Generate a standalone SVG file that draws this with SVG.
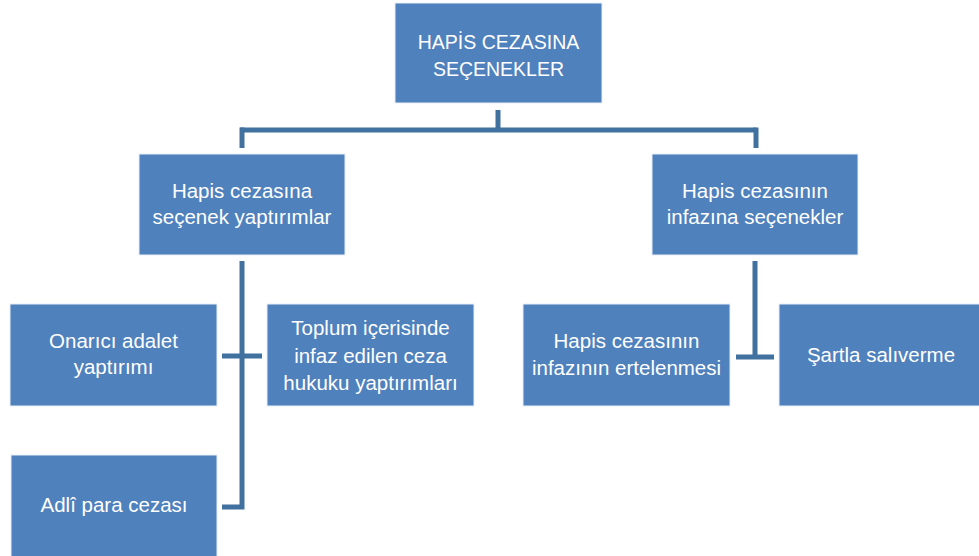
<svg xmlns="http://www.w3.org/2000/svg" width="979" height="556" viewBox="0 0 979 556">
<style>
.box{fill:#4F81BD;stroke:#E8EEF6;stroke-width:1}
.t{font-family:"Liberation Sans",Arial,sans-serif;font-size:20.5px;fill:#FFFFFF;text-anchor:middle}
.c{fill:none;stroke:#41719F;stroke-width:5;stroke-linecap:butt;stroke-linejoin:miter}
</style>
<rect width="979" height="556" fill="#FFFFFF"/>
<g id="connectors">
<path class="c" d="M498,110 V130"/>
<path class="c" d="M240,130 H756"/>
<path class="c" d="M242,127.5 V148"/>
<path class="c" d="M756,127.5 V148"/>
<path class="c" d="M242,261 V507 H222"/>
<path class="c" d="M222,356 H262"/>
<path class="c" d="M755,261 V357"/>
<path class="c" d="M736,357 H774"/>
</g>
<g id="root">
<rect class="box" x="395" y="3" width="207" height="100"/>
<text class="t" x="498.5" y="49" style="font-size:19.5px">HAPİS CEZASINA</text>
<text class="t" x="498.5" y="76" style="font-size:19.5px">SEÇENEKLER</text>
</g>
<g id="left-mid">
<rect class="box" x="139" y="154" width="206" height="101"/>
<text class="t" x="242" y="198">Hapis cezasına</text>
<text class="t" x="242" y="224">seçenek yaptırımlar</text>
</g>
<g id="right-mid">
<rect class="box" x="652" y="154" width="206" height="101"/>
<text class="t" x="755" y="198">Hapis cezasının</text>
<text class="t" x="755" y="224">infazına seçenekler</text>
</g>
<g id="onarici">
<rect class="box" x="10" y="304" width="207" height="102"/>
<text class="t" x="113.5" y="348">Onarıcı adalet</text>
<text class="t" x="113.5" y="374">yaptırımı</text>
</g>
<g id="toplum">
<rect class="box" x="267" y="304" width="207" height="102"/>
<text class="t" x="370.5" y="335">Toplum içerisinde</text>
<text class="t" x="370.5" y="363">infaz edilen ceza</text>
<text class="t" x="370.5" y="390">hukuku yaptırımları</text>
</g>
<g id="adli">
<rect class="box" x="11" y="455" width="206" height="102"/>
<text class="t" x="114" y="512">Adlî para cezası</text>
</g>
<g id="erteleme">
<rect class="box" x="523" y="304" width="207" height="102"/>
<text class="t" x="626.5" y="348">Hapis cezasının</text>
<text class="t" x="626.5" y="375">infazının ertelenmesi</text>
</g>
<g id="sartla">
<rect class="box" x="779" y="304" width="206" height="102"/>
<text class="t" x="881" y="362">Şartla salıverme</text>
</g>
</svg>
